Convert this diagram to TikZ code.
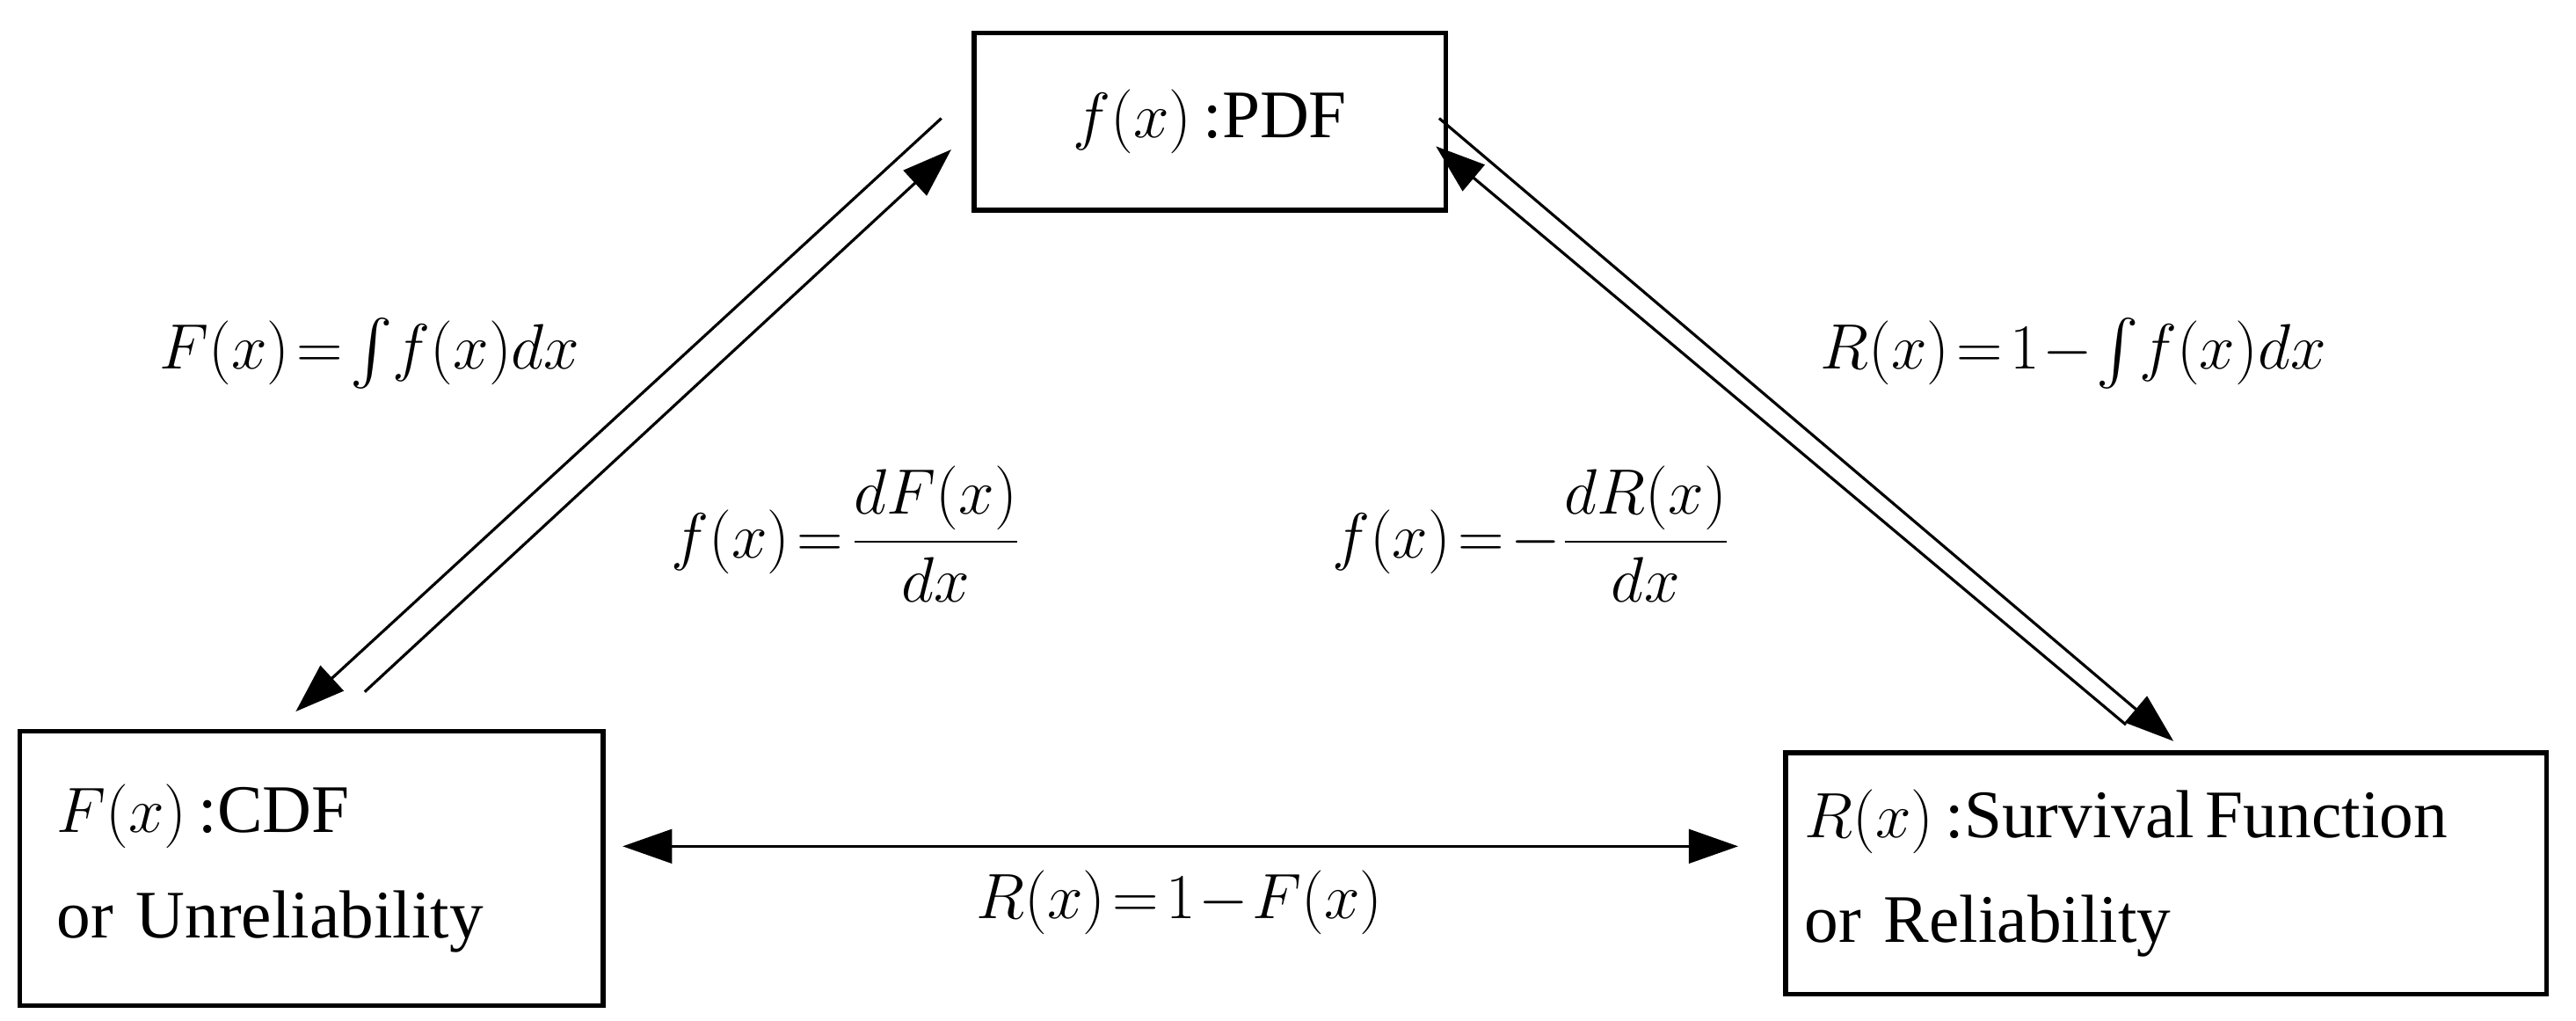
\documentclass[tikz,border=0pt]{standalone}
\usepackage{amsmath}
\usepackage{fontspec}
\setmainfont{Liberation Serif}
\usetikzlibrary{arrows.meta}
\begin{document}
\begin{tikzpicture}[x=0.018686cm,y=-0.018686cm,
  box/.style={draw,line width=1.6pt,inner sep=0pt,font=\fontsize{22}{34}\selectfont},
  lab/.style={font=\fontsize{21}{28}\selectfont},
  arr/.style={line width=0.9pt,-{Triangle[length=16pt,width=11pt]}}]
\useasboundingbox (0,0) rectangle (1568,621);
\node[box,minimum width=287*0.018686cm,minimum height=108*0.018686cm] (pdf) at (736.5,74) {$f(x)$\,:PDF};
\node[box,minimum width=355*0.018686cm,minimum height=167*0.018686cm,align=left,text width=310*0.018686cm] (cdf) at (189.5,528.5) {$F(x)$\,:CDF\\or Unreliability};
\node[box,minimum width=463*0.018686cm,minimum height=147*0.018686cm,align=left,text width=440*0.018686cm] (rel) at (1318.5,531.5) {\mbox{$R(x)$\,:Survival\,Function}\\or Reliability};
\coordinate (a1) at (573,72); \coordinate (a2) at (180,433);
\coordinate (b1) at (222,421); \coordinate (b2) at (579,91);
\coordinate (c1) at (876,72); \coordinate (c2) at (1323,451);
\coordinate (d1) at (1294,441); \coordinate (d2) at (874,89);
\draw[arr] (a1) -- (a2);
\draw[arr] (b1) -- (b2);
\draw[arr] (c1) -- (c2);
\draw[arr] (d1) -- (d2);
\coordinate (h1) at (379,515); \coordinate (h2) at (1058,515);
\draw[line width=0.9pt,{Triangle[length=16pt,width=11pt]}-{Triangle[length=16pt,width=11pt]}] (h1) -- (h2);
\node[lab] (l1) at (225,215) {$F(x)\!=\!\int\! f(x)dx$};
\node[lab] (l2) at (515,325) {$f(x)\!=\!\dfrac{dF(x)}{dx}$};
\node[lab] (l3) at (1262,215) {$R(x)\!=\!1\!-\!\int\! f(x)dx$};
\node[lab] (l4) at (932,325) {$f(x)\!=\!-\dfrac{dR(x)}{dx}$};
\node[lab] (l5) at (718,549) {$R(x)\!=\!1\!-\!F(x)$};
\end{tikzpicture}
\end{document}
